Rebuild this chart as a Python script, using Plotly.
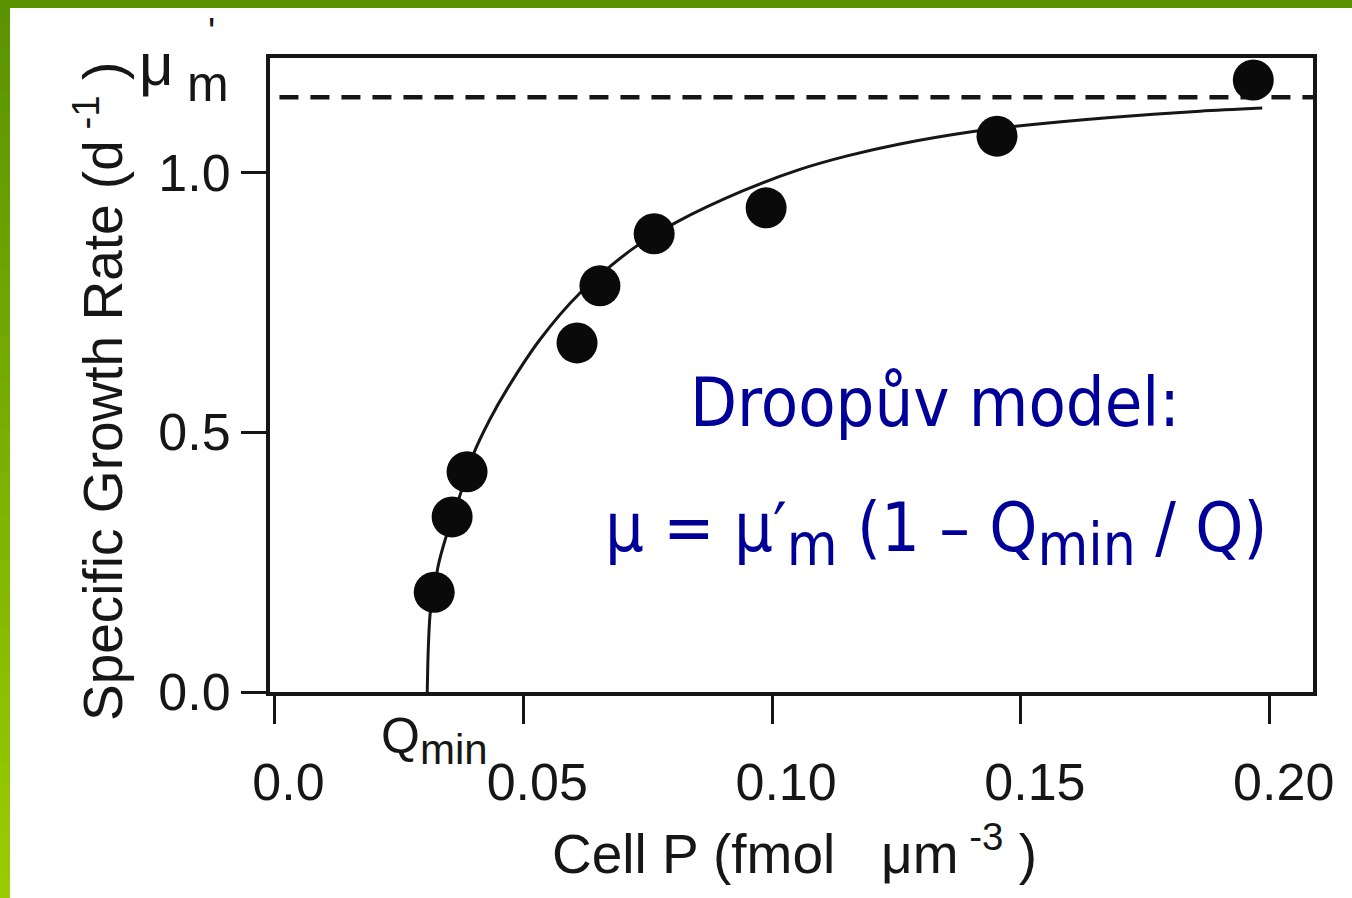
import plotly.graph_objects as go

# ---- data ----
cell_p = [0.0321, 0.0357, 0.0387, 0.0608, 0.0654, 0.0763, 0.0988, 0.1452, 0.1967]
growth = [0.192, 0.337, 0.424, 0.672, 0.782, 0.882, 0.932, 1.070, 1.178]

curve_q = [0.0307, 0.0309, 0.0313, 0.0321, 0.0329, 0.0343, 0.0359, 0.0377, 0.0399,
           0.0433, 0.0468, 0.0534, 0.0614, 0.0721, 0.0809, 0.0942, 0.1056, 0.1151,
           0.1257, 0.1404, 0.1499, 0.1680, 0.1860, 0.1985]
curve_mu = [0.000, 0.081, 0.152, 0.196, 0.243, 0.293, 0.339, 0.391, 0.456,
            0.525, 0.584, 0.679, 0.768, 0.854, 0.905, 0.965, 1.006, 1.032,
            1.055, 1.079, 1.090, 1.106, 1.118, 1.124]

mu_m = 1.145
mu_m_x = [0.001, 0.2087]
q_min = 0.0307

x_ticks = [0.0, 0.05, 0.10, 0.15, 0.20]
x_tick_labels = ["0.0", "0.05", "0.10", "0.15", "0.20"]
y_ticks = [0.0, 0.5, 1.0]
y_tick_labels = ["0.0", "0.5", "1.0"]

# ---- layout geometry (pixels) ----
W, H = 1352, 898
L, R, T, B = 270, 1313, 58, 692
PW, PH = R - L, B - T


def px(x):
    return (x - L) / PW


def py(y):
    return (B - y) / PH


INK = "#161616"
NAVY = "#000099"
AX_FONT = "Liberation Sans, Arial, Helvetica, sans-serif"
TX_FONT = "DejaVu Sans Condensed, DejaVu Sans, Verdana, sans-serif"

fig = go.Figure()

fig.add_trace(go.Scatter(x=mu_m_x, y=[mu_m, mu_m], mode="lines",
                         line=dict(color=INK, width=4.5, dash="19px,12px"),
                         hoverinfo="skip", showlegend=False))
fig.add_trace(go.Scatter(x=curve_q, y=curve_mu, mode="lines",
                         line=dict(color=INK, width=3, shape="spline", smoothing=0.8),
                         showlegend=False))
fig.add_trace(go.Scatter(x=cell_p, y=growth, mode="markers",
                         marker=dict(color="#0a0a0a", size=41, line=dict(width=0)),
                         cliponaxis=False, showlegend=False))

shapes = []
# top green bar
shapes.append(dict(type="rect", xref="paper", yref="paper",
                   x0=px(0), x1=px(W), y0=py(8), y1=py(0),
                   fillcolor="#5b9300", line=dict(width=0), layer="above"))
# left green bar with vertical gradient
n = 40
c0 = (91, 147, 0)
c1 = (153, 204, 0)
for i in range(n):
    t = i / (n - 1)
    col = "rgb(%d,%d,%d)" % tuple(round(a + (b - a) * t) for a, b in zip(c0, c1))
    y_top = H * i / n
    y_bot = H * (i + 1) / n + 1
    shapes.append(dict(type="rect", xref="paper", yref="paper",
                       x0=px(0), x1=px(10), y0=py(y_bot), y1=py(y_top),
                       fillcolor=col, line=dict(width=0), layer="above"))

SUB = "<sub><span style='font-size:58px'>%s</span></sub>"

annotations = [
    dict(text="Droopův model:", x=px(935), y=py(402), xref="paper", yref="paper",
         showarrow=False, xanchor="center", yanchor="middle",
         font=dict(family=TX_FONT, size=68, color=NAVY)),
    dict(text="μ = μ′" + SUB % "m" + " (1 – Q" + SUB % "min" + " / Q)",
         x=px(936), y=py(533),
         xref="paper", yref="paper", showarrow=False, xanchor="center", yanchor="middle",
         font=dict(family=TX_FONT, size=68, color=NAVY)),
    dict(text="Q<sub><span style='font-size:42px'>min</span></sub>", x=px(434), y=py(740),
         xref="paper", yref="paper",
         showarrow=False, xanchor="center", yanchor="middle",
         font=dict(family=AX_FONT, size=50, color=INK)),
    dict(text="μ", x=px(156), y=py(64), xref="paper", yref="paper",
         showarrow=False, xanchor="center", yanchor="middle",
         font=dict(family=AX_FONT, size=60, color=INK)),
    dict(text="m", x=px(208), y=py(84), xref="paper", yref="paper",
         showarrow=False, xanchor="center", yanchor="middle",
         font=dict(family=AX_FONT, size=50, color=INK)),
    dict(text="'", x=px(211), y=py(32), xref="paper", yref="paper",
         showarrow=False, xanchor="center", yanchor="middle",
         font=dict(family=AX_FONT, size=38, color=INK)),
    dict(text="Specific Growth Rate (d<sup> -1</sup>\u00a0)", x=px(99), y=py(392),
         xref="paper", yref="paper", showarrow=False, textangle=-90,
         xanchor="center", yanchor="middle",
         font=dict(family=AX_FONT, size=55, color=INK)),
    dict(text="Cell P (fmol\u00a0\u00a0\u00a0μm<sup> -3</sup>\u00a0)", x=px(794), y=py(850),
         xref="paper", yref="paper", showarrow=False,
         xanchor="center", yanchor="middle",
         font=dict(family=AX_FONT, size=55, color=INK)),
]

fig.update_layout(
    width=W, height=H,
    margin=dict(l=L, r=W - R, t=T, b=H - B, pad=0),
    paper_bgcolor="white", plot_bgcolor="white",
    shapes=shapes, annotations=annotations,
    showlegend=False,
)

fig.update_xaxes(range=[-0.0009, 0.2087], tickvals=x_ticks, ticktext=x_tick_labels,
                 showgrid=False, zeroline=False, showline=True, linecolor=INK,
                 linewidth=4, mirror=True, ticks="outside", ticklen=28, tickwidth=3,
                 tickcolor=INK, ticklabelstandoff=14, ticklabelshift=14,
                 tickfont=dict(family=AX_FONT, size=52, color=INK))
fig.update_yaxes(range=[0, 1.2204], tickvals=y_ticks, ticktext=y_tick_labels,
                 showgrid=False, zeroline=False, showline=True, linecolor=INK,
                 linewidth=4, mirror=True, ticks="outside", ticklen=25, tickwidth=3,
                 tickcolor=INK, ticklabelstandoff=0,
                 tickfont=dict(family=AX_FONT, size=52, color=INK))

fig.write_html("out.html")
